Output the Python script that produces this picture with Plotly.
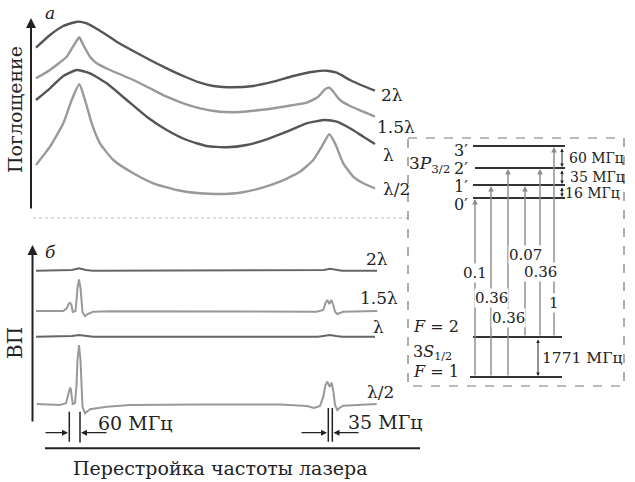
import plotly.graph_objects as go

# ---------------- data (figure pixel units) ----------------
# Panel a: absorption curves
abs_2l_x = [36, 50, 63.3, 77.3, 86.7, 100, 116.7, 133.3, 150, 166.7, 183.3, 200, 213.3, 233.3, 253.3, 273.3, 293.3, 313.3, 326.7, 336.7, 350, 363.3, 375]
abs_2l_y = [47.7, 35, 26, 21.7, 23.3, 30.7, 41.7, 51, 60, 68.3, 76, 82.7, 86, 87.3, 86, 81.7, 76, 71.7, 70.7, 72.7, 80, 86, 90.7]

abs_15l_x = [36, 50, 66.7, 75, 79.3, 83.3, 90, 96.7, 110, 133.3, 150, 166.7, 183.3, 200, 220, 240, 260, 283.3, 306.7, 318.3, 325, 329.3, 333.3, 340, 350, 363.3, 375]
abs_15l_y = [78.3, 70, 56.7, 43.3, 37.3, 45, 56.7, 63.3, 70, 80, 88.3, 96.7, 103.3, 108.3, 111.7, 112, 110, 106.7, 102.7, 96.7, 89.3, 87.7, 91.7, 100, 106, 111.7, 116.7]

abs_l_x = [36, 50, 63.3, 76.7, 90, 106.7, 126.7, 146.7, 166.7, 186.7, 206.7, 226.7, 246.7, 266.7, 286.7, 306.7, 325, 336.7, 350, 363.3, 375]
abs_l_y = [100, 88.3, 76, 70, 73.3, 83.3, 100, 116.7, 130, 140, 146, 147.3, 145, 139.3, 131.7, 123.3, 120, 121.7, 128.3, 136.7, 144]

abs_l2_x = [36, 50, 63.3, 71.7, 79.3, 85, 91.7, 100, 113.3, 133.3, 153.3, 176.7, 200, 220, 240, 260, 280, 300, 313.3, 321.7, 329.3, 335, 343.3, 353.3, 363.3, 375]
abs_l2_y = [165, 146.7, 123.3, 100, 84.3, 100, 123.3, 143.3, 160, 173.3, 183.3, 190, 193.3, 194, 192.7, 188.3, 181.7, 171.7, 160, 146.7, 134.3, 143.3, 163.3, 176.7, 183.3, 188.3]

# Panel b: polarization spectroscopy signals
vp_2l_x = [36, 65, 72, 79, 86, 93, 318, 324, 330, 336, 342, 377]
vp_2l_y = [270.7, 270.7, 270, 268.3, 270, 270.7, 270.7, 270, 268.7, 270, 270.7, 270.7]

vp_15l_x = [36, 63.3, 66.7, 68.5, 70, 71.5, 72.7, 75.5, 76.5, 77.5, 79, 80.5, 81.5, 82.5, 85, 88, 93.3, 110, 316.7, 321, 323.3, 325.5, 327.3, 329.3, 331.3, 333.3, 335, 337.3, 340, 343.3, 377.3]
vp_15l_y = [311, 311, 308.3, 304, 302.7, 305, 312, 311, 300, 288, 279.3, 288, 300, 312, 316, 314, 311.7, 311.2, 311.7, 311, 310, 303, 300, 304, 300, 305, 311.7, 314, 313, 311.7, 311]

vp_l_x = [36, 65, 72, 79, 86, 93, 318, 324, 330, 336, 342, 375]
vp_l_y = [336.7, 336.7, 336, 335, 336, 336.7, 336.7, 336, 335, 336, 336.7, 336.7]

vp_l2_x = [36.7, 60, 66, 68, 69.2, 70, 70.8, 72, 72.7, 75, 76.5, 77.5, 79, 80.5, 81.5, 82.5, 85, 90, 106.7, 130, 200, 280, 307, 314, 320, 323.3, 325.5, 327.3, 329.7, 331.7, 333.5, 335, 337.3, 340, 343.3, 376.7]
vp_l2_y = [404, 405, 403.3, 394, 389, 387.7, 389, 396, 404, 403, 385, 360, 345, 360, 385, 406.7, 413.3, 409.3, 406.7, 405, 404.5, 404.5, 406, 408, 406, 396.7, 385, 381.7, 386.7, 382.7, 392, 405, 410, 407.5, 405.7, 404]

curve_labels = ["2λ", "1.5λ", "λ", "λ/2"]

# Energy levels (y positions) and transitions
level_names = ["3′", "2′", "1′", "0′"]
level_lab_y = [150, 168, 186, 204]
level_y = {"3′": 146, "2′": 168, "1′": 185, "0′": 198, "F2": 337, "F1": 377}
trans_x = [475, 491, 508, 525, 540, 554]
trans_from = ["F1", "F1", "F1", "F2", "F2", "F2"]
trans_to = ["0′", "1′", "2′", "1′", "2′", "3′"]
trans_strength = ["0.1", "0.36", "0.36", "0.07", "0.36", "1"]
trans_lab_y = [273, 298, 318, 255, 272, 303]
splittings = ["60 МГц", "35 МГц", "16 МГц"]
ground_split = "1771 МГц"

DARK = "#555555"
LIGHT = "#999999"
FONT = "DejaVu Serif"

fig = go.Figure()

def curve(x, y, color, w, shape="spline"):
    ln = dict(color=color, width=w, shape=shape)
    if shape == "spline":
        ln["smoothing"] = 0.5
    fig.add_trace(go.Scatter(x=x, y=y, mode="lines", line=ln, hoverinfo="skip", showlegend=False))

curve(abs_2l_x, abs_2l_y, DARK, 2.4)
curve(abs_15l_x, abs_15l_y, LIGHT, 2.4)
curve(abs_l_x, abs_l_y, DARK, 2.4)
curve(abs_l2_x, abs_l2_y, LIGHT, 2.4)

curve(vp_2l_x, vp_2l_y, "#666666", 2, "linear")
curve(vp_15l_x, vp_15l_y, LIGHT, 2, "linear")
curve(vp_l_x, vp_l_y, "#666666", 2, "linear")
curve(vp_l2_x, vp_l2_y, LIGHT, 2, "linear")

ann = []
shapes = []

def text(x, y, s, size=18, xanchor="center", color="#222", bg=None, angle=0):
    d = dict(x=x, y=y, text=s, showarrow=False, xref="x", yref="y", xanchor=xanchor, yanchor="middle",
             font=dict(family=FONT, size=size, color=color), textangle=angle)
    if bg:
        d["bgcolor"] = bg
        d["borderpad"] = 0
    ann.append(d)

def arrow(x0, y0, x1, y1, color="#222", width=1.5, head=2, size=1.0, both=False):
    d = dict(x=x1, y=y1, ax=x0, ay=y0, xref="x", yref="y", axref="x", ayref="y", text="",
             showarrow=True, arrowhead=head, arrowsize=size, arrowwidth=width, arrowcolor=color)
    if both:
        d["arrowside"] = "end+start"
        d["startarrowhead"] = head
        d["startarrowsize"] = size
    ann.append(d)

def line(x0, y0, x1, y1, color="#222", width=1.5, dash="solid"):
    shapes.append(dict(type="line", x0=x0, y0=y0, x1=x1, y1=y1, xref="x", yref="y",
                       line=dict(color=color, width=width, dash=dash)))

# axes of panel a and b
arrow(31, 210, 31, 18, color="#222", width=2, head=2, size=1)
arrow(32.5, 423, 32.5, 245, color="#222", width=2, head=2, size=1)
text(43, 13, "<i>a</i>", 17, "left")
text(43, 252, "<i>б</i>", 17, "left")
text(15, 110, "Поглощение", 19, angle=-90)
text(15, 343, "ВП", 20, angle=-90)

# curve labels, panel a
text(392, 95, curve_labels[0], 17, "center")
text(396, 127, curve_labels[1], 17, "center")
text(388, 155, curve_labels[2], 17, "center")
text(396, 189, curve_labels[3], 17, "center")
# panel b
text(377, 259, curve_labels[0], 17, "center")
text(379, 298, curve_labels[1], 17, "center")
text(378, 327, curve_labels[2], 17, "center")
text(380, 392, curve_labels[3], 17, "center")

# separator
line(33, 218, 410, 218, color="#bbbbbb", width=1.2, dash="dot")

# frequency markers
line(69.3, 411.7, 69.3, 441.7, "#222", 1.5)
line(80, 411.7, 80, 442.5, "#222", 1.5)
arrow(44, 432.7, 68, 432.7, "#222", 1.2, 2, 1)
arrow(108, 432.7, 81, 432.7, "#222", 1.2, 2, 1)
text(96, 423, splittings[0], 19, "left")
line(328.3, 408, 328.3, 441.7, "#222", 1.5)
line(332.3, 408, 332.3, 441.7, "#222", 1.5)
arrow(300, 432.7, 327, 432.7, "#222", 1.2, 2, 1)
arrow(360, 432.7, 333.5, 432.7, "#222", 1.2, 2, 1)
text(346, 422, splittings[1], 19, "left")

# x axis
line(45, 448.3, 420, 448.3, "#222", 2)
text(220, 468, "Перестройка частоты лазера", 19)

# level diagram box
shapes.append(dict(type="rect", x0=408, y0=138, x1=624, y1=386, xref="x", yref="y",
                   line=dict(color="#777", width=1.2, dash="dash")))

# levels
line(473, level_y["3′"], 565, level_y["3′"], "#333", 2)
line(475, level_y["2′"], 565, level_y["2′"], "#333", 2)
line(473, level_y["1′"], 565, level_y["1′"], "#333", 2)
line(473, level_y["0′"], 565, level_y["0′"], "#333", 2)
line(473, level_y["F2"], 562, level_y["F2"], "#333", 2)
line(470, level_y["F1"], 562, level_y["F1"], "#333", 2)

for nm, ly in zip(level_names, level_lab_y):
    text(470, ly, nm, 16, "right")
text(407, 164, "3<i>P</i><sub>3/2</sub>", 17, "left")
text(411, 326, "<i>F</i> = 2", 16, "left")
text(411, 352, "3<i>S</i><sub>1/2</sub>", 16, "left")
text(411, 371, "<i>F</i> = 1", 16, "left")

# transitions
for x, f, t in zip(trans_x, trans_from, trans_to):
    arrow(x, level_y[f], x, level_y[t] + 1, "#8a8a8a", 1.4, 2, 0.8)
for x, s, ly in zip(trans_x, trans_strength, trans_lab_y):
    text(x, ly, s, 15, "center", bg="white")

# splitting double arrows
arrow(562, level_y["3′"] + 1, 562, level_y["2′"] - 1, "#222", 1, 2, 0.7, both=True)
arrow(562, level_y["2′"] + 1, 562, level_y["1′"] - 1, "#222", 1, 2, 0.7, both=True)
arrow(562, level_y["1′"] + 1, 562, level_y["0′"] - 1, "#222", 1, 2, 0.7, both=True)
text(567, 158, splittings[0], 14, "left")
text(568, 177, splittings[1], 14, "left")
text(563, 193, splittings[2], 14, "left")
arrow(538, level_y["F2"] + 1, 538, level_y["F1"] - 1, "#222", 1, 2, 0.7, both=True)
text(540, 358, ground_split, 15.5, "left")

fig.update_layout(
    width=635, height=482, margin=dict(l=0, r=0, t=0, b=0),
    paper_bgcolor="white", plot_bgcolor="white",
    xaxis=dict(range=[0, 635], visible=False, fixedrange=True),
    yaxis=dict(range=[482, 0], visible=False, fixedrange=True),
    annotations=ann, shapes=shapes, showlegend=False,
)
fig.write_html("out.html", config={"displayModeBar": False},
               post_script="document.body.style.margin='0';document.body.style.overflow='hidden';")
